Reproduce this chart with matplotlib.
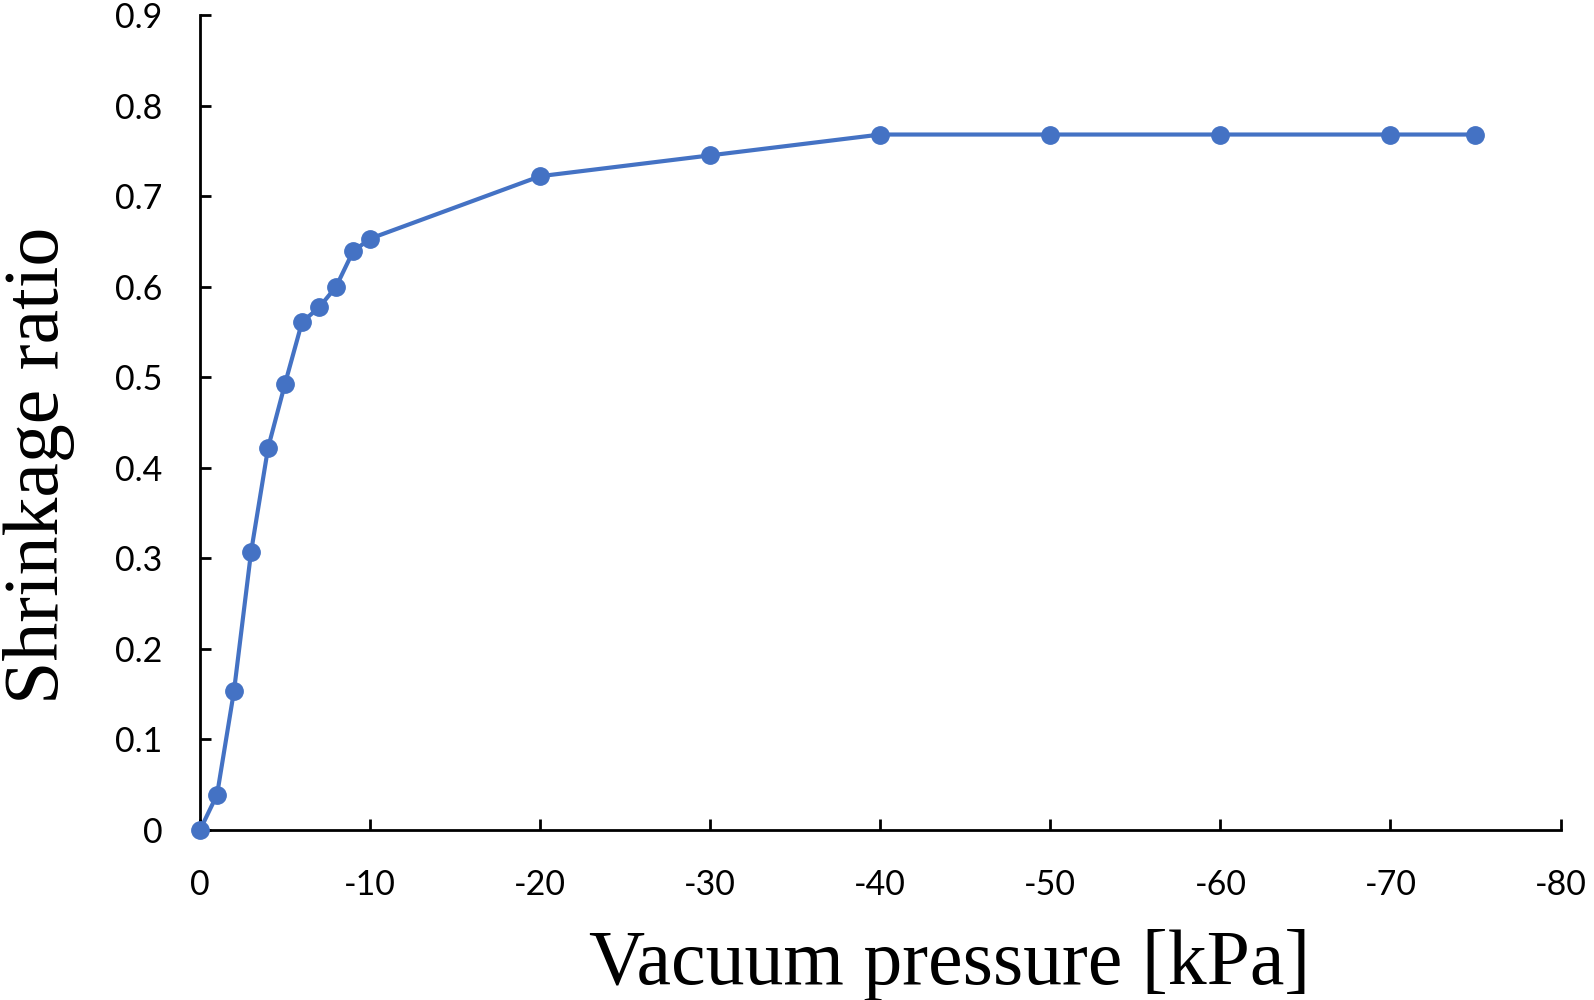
import matplotlib
matplotlib.use("Agg")
import matplotlib.pyplot as plt
from matplotlib.ticker import FuncFormatter

# vacuum pressure [kPa] and shrinkage ratio
pressure = [0, -1, -2, -3, -4, -5, -6, -7, -8, -9, -10, -20, -30, -40, -50, -60, -70, -75]
shrinkage = [0.0, 0.039, 0.154, 0.307, 0.422, 0.493, 0.561, 0.577, 0.600, 0.639, 0.653,
             0.722, 0.745, 0.768, 0.768, 0.768, 0.768, 0.768]

x_ticks = [0, -10, -20, -30, -40, -50, -60, -70, -80]
y_ticks = [0, 0.1, 0.2, 0.3, 0.4, 0.5, 0.6, 0.7, 0.8, 0.9]

plt.rcParams['axes.unicode_minus'] = False

fig = plt.figure(figsize=(15.94, 10), dpi=100)
ax = fig.add_axes([0.1255, 0.17, 0.8535, 0.815])

ax.plot(pressure, shrinkage, color="#4472C4", lw=3, marker="o", ms=12.5,
        clip_on=False, zorder=3)

ax.set_xlim(0, -80)
ax.set_ylim(0, 0.9)
ax.set_xticks(x_ticks)
ax.set_yticks(y_ticks)
ax.xaxis.set_major_formatter(FuncFormatter(lambda v, p: "%g" % v))
ax.yaxis.set_major_formatter(FuncFormatter(lambda v, p: "%g" % v))

for s in ["top", "right"]:
    ax.spines[s].set_visible(False)
for s in ["left", "bottom"]:
    ax.spines[s].set_linewidth(2)

ax.tick_params(direction="in", length=8, width=2, labelsize=24.5, colors="black")
ax.tick_params(axis="y", pad=27)
ax.tick_params(axis="x", pad=28)
for lab in ax.get_xticklabels() + ax.get_yticklabels():
    lab.set_family("Lato")

ax.set_xlabel("Vacuum pressure [kPa]", family="Liberation Serif", fontsize=56)
ax.set_ylabel("Shrinkage ratio", family="Liberation Serif", fontsize=56)
ax.xaxis.set_label_coords(0.551, -0.122)
ax.yaxis.set_label_coords(-0.092, 0.448)

fig.savefig("out.png", dpi=100)
